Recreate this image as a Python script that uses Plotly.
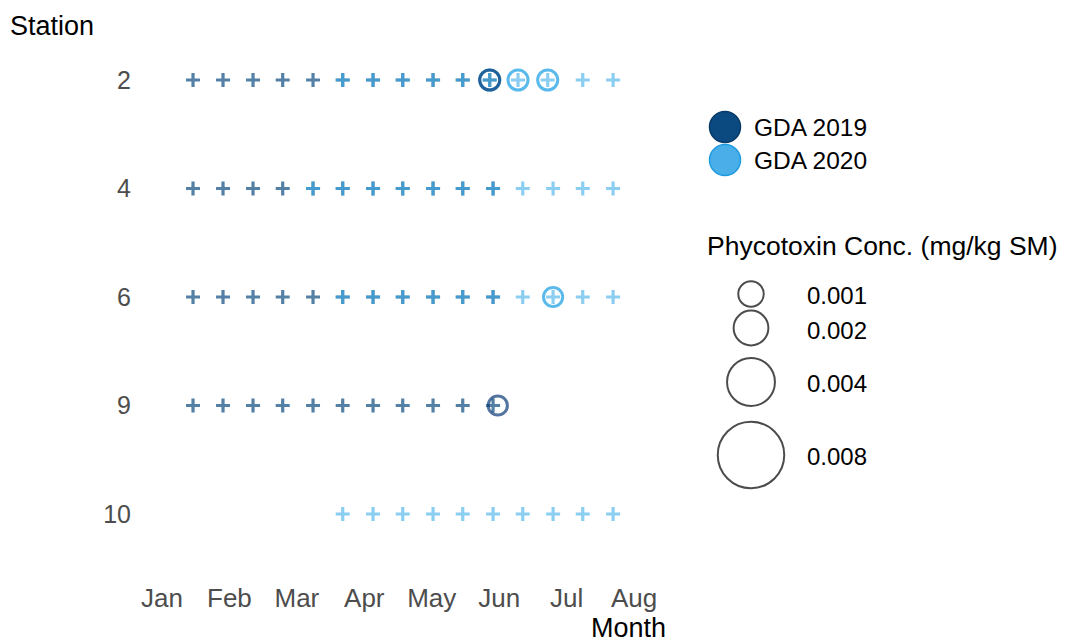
import plotly.graph_objects as go

# ---------------- data ----------------
month_labels = ["Jan", "Feb", "Mar", "Apr", "May", "Jun", "Jul", "Aug"]
month_ticks = [1, 2, 3, 4, 5, 6, 7, 8]
station_order = ["10", "9", "6", "4", "2"]  # bottom -> top

# sampling dates as decimal month (1 = start of Jan)
common_2019 = [1.46, 1.905, 2.35, 2.79, 3.24, 3.68, 4.13, 4.57, 5.02, 5.46]
samples_2019 = {
    "2": common_2019 + [5.86],
    "4": common_2019 + [5.91],
    "6": common_2019 + [5.91],
    "9": common_2019 + [5.91],
}
samples_2020 = {
    "2": [3.68, 4.13, 4.57, 5.02, 5.46, 5.86, 6.28, 6.72, 7.24, 7.69],
    "4": [3.24, 3.68, 4.13, 4.57, 5.02, 5.46, 5.91, 6.35, 6.80, 7.24, 7.69],
    "6": [3.68, 4.13, 4.57, 5.02, 5.46, 5.91, 6.35, 6.80, 7.24, 7.69],
    "10": [3.68, 4.13, 4.57, 5.02, 5.46, 5.91, 6.35, 6.80, 7.24, 7.69],
}
# detections: station, month, concentration (mg/kg SM)
det_2019_station = ["2", "9"]
det_2019_month = [5.86, 5.98]
det_2019_conc = [0.00045, 0.0004]
det_2020_station = ["2", "2", "2", "6"]
det_2020_month = [5.86, 6.28, 6.72, 6.80]
det_2020_conc = [0.00045, 0.00045, 0.00045, 0.0004]

legend_years = ["GDA 2019", "GDA 2020"]
legend_conc = [0.001, 0.002, 0.004, 0.008]
legend_conc_labels = ["0.001", "0.002", "0.004", "0.008"]

# ---------------- styling ----------------
OFF = 8                      # page body margin
W, H = 1069 - OFF, 637 - OFF
FONT = "Liberation Sans, Arial, sans-serif"
C2019_FILL = "#0b4a80"
C2020_FILL = "#4aaee8"
PLUS_2019 = "rgba(11,74,128,0.70)"
PLUS_2020 = "rgba(61,174,233,0.60)"
CIRC_2019 = "#0b3a76"
CIRC_2020 = "#129de2"


def P(v):
    return v - OFF


def size_scale(v):
    return 5 + 710 * (v ** 0.5)


def flat(d):
    xs, ys = [], []
    for st, vals in d.items():
        xs += vals
        ys += [st] * len(vals)
    return xs, ys


fig = go.Figure()

x19, y19 = flat(samples_2019)
x20, y20 = flat(samples_2020)
fig.add_trace(go.Scatter(x=x19, y=y19, mode="markers", showlegend=False,
                         marker=dict(symbol="cross-thin", size=10,
                                     line=dict(color=PLUS_2019, width=3.2))))
fig.add_trace(go.Scatter(x=x20, y=y20, mode="markers", showlegend=False,
                         marker=dict(symbol="cross-thin", size=10,
                                     line=dict(color=PLUS_2020, width=3.2))))
fig.add_trace(go.Scatter(x=det_2020_month, y=det_2020_station, mode="markers", showlegend=False,
                         marker=dict(symbol="circle-open", size=[size_scale(v) for v in det_2020_conc],
                                     color=CIRC_2020, line=dict(color=CIRC_2020, width=3))))
fig.add_trace(go.Scatter(x=det_2019_month, y=det_2019_station, mode="markers", showlegend=False,
                         marker=dict(symbol="circle-open", size=[size_scale(v) for v in det_2019_conc],
                                     color=CIRC_2019, line=dict(color=CIRC_2019, width=3))))

# legend drawn on a pixel-space overlay axis
fig.add_trace(go.Scatter(x=[P(725), P(725)], y=[P(127), P(160)], xaxis="x2", yaxis="y2", mode="markers",
                         showlegend=False, hoverinfo="skip",
                         marker=dict(size=31, color=[C2019_FILL, C2020_FILL],
                                     line=dict(color=["#083a68", "#1e9be0"], width=1.5))))
size_leg_y = [294, 328, 382, 455]
fig.add_trace(go.Scatter(x=[P(751)] * 4, y=[P(v) for v in size_leg_y], xaxis="x2", yaxis="y2",
                         mode="markers", showlegend=False, hoverinfo="skip",
                         marker=dict(symbol="circle-open", size=[size_scale(v) - 2 for v in legend_conc],
                                     color="black", line=dict(color="black", width=2))))

# pixel -> domain helpers
X0PX, X1PX = P(162), P(634)
xppu = (X1PX - X0PX) / 7.0
XL, XR = P(140), P(660)
YT_PX, YB_PX = P(22), P(572)
Y_TOP_IDX_PX, Y_BOT_IDX_PX = P(80), P(514)
yppu = (Y_BOT_IDX_PX - Y_TOP_IDX_PX) / 4.0

ann = []
def px_ann(text, x, y, size, color="black", xanchor="left"):
    ann.append(dict(text=text, x=P(x) / W, y=1 - P(y) / H, xref="paper", yref="paper",
                    showarrow=False, xanchor=xanchor, yanchor="middle",
                    font=dict(size=size, color=color, family=FONT)))

px_ann("Station", 8, 26, 27)
px_ann("Month", 668, 628, 27, xanchor="right")
for t, yy in zip(legend_years, [127, 161]):
    px_ann(t, 752, yy, 24.5)
px_ann("Phycotoxin Conc. (mg/kg SM)", 705, 246, 26.5)
for t, yy in zip(legend_conc_labels, [295, 330, 383, 457]):
    px_ann(t, 805, yy, 24)

fig.update_layout(
    width=W, height=H,
    margin=dict(l=0, r=0, t=0, b=0),
    paper_bgcolor="white", plot_bgcolor="rgba(0,0,0,0)",
    font=dict(family=FONT),
    annotations=ann,
    xaxis=dict(domain=[XL / W, XR / W],
               range=[1 - (X0PX - XL) / xppu, 8 + (XR - X1PX) / xppu],
               tickvals=month_ticks, ticktext=month_labels,
               showgrid=False, zeroline=False, showline=False, ticks="",
               ticklabelstandoff=8,
               tickfont=dict(size=26, color="#4d4d4d", family=FONT)),
    yaxis=dict(domain=[1 - YB_PX / H, 1 - YT_PX / H],
               type="category", categoryorder="array", categoryarray=station_order,
               range=[-(YB_PX - Y_BOT_IDX_PX) / yppu, 4 + (Y_TOP_IDX_PX - YT_PX) / yppu],
               showgrid=False, zeroline=False, showline=False, ticks="",
               ticklabelstandoff=8,
               tickfont=dict(size=25, color="#4d4d4d", family=FONT)),
    xaxis2=dict(domain=[0, 1], range=[0, W], visible=False, anchor="y2"),
    yaxis2=dict(domain=[0, 1], range=[H, 0], visible=False, anchor="x2"),
)

fig.write_html("out.html")
